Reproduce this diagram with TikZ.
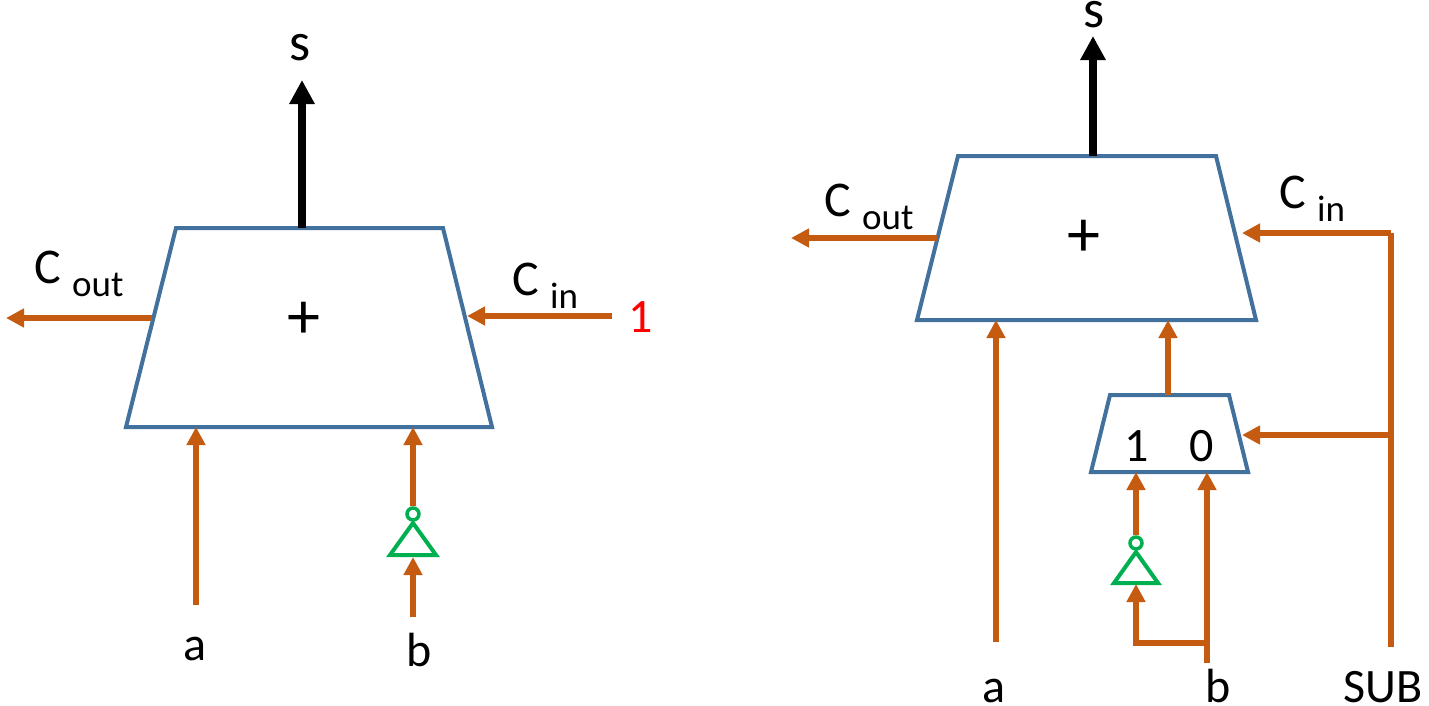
\documentclass[tikz,border=0pt]{standalone}
\usepackage{fontspec}
\setmainfont{Carlito}
\usetikzlibrary{arrows.meta}
\definecolor{wirecol}{HTML}{C55A11}
\definecolor{boxcol}{HTML}{41719C}
\definecolor{gatecol}{HTML}{00B050}
\tikzset{
  wire/.style={draw=wirecol,line width=5.5pt},
  wirearrow/.style={wire,-{Triangle[length=18pt,width=18pt]}},
  sumarrow/.style={draw=black,line width=8.5pt,-{Triangle[length=24pt,width=24pt]}},
  block/.style={draw=boxcol,line width=4pt,line join=miter},
  gate/.style={draw=gatecol,line width=4pt},
  bubble/.style={circle,draw=gatecol,line width=3.5pt,minimum size=12pt,inner sep=0pt},
  lbl/.style={inner sep=0pt,anchor=base,font=\fontsize{48}{50}\selectfont},
  bigsym/.style={inner sep=0pt,anchor=base,font=\fontsize{54}{56}\selectfont},
  plussym/.style={inner sep=0pt,font=\fontsize{66}{70}\selectfont},
  carry/.style={inner sep=0pt,anchor=base west,font=\fontsize{50}{54}\selectfont},
}
\newcommand{\subtxt}[1]{\ \raisebox{-13pt}{\fontsize{37}{40}\selectfont #1}}
\begin{document}
\begin{tikzpicture}[x=1pt,y=-1pt]
\useasboundingbox (0,0) rectangle (1429,705);
% Left adder
\draw[block] (176,228) -- (443,228) -- (492,427) -- (126,427) -- cycle;
\node[plussym] (plusl) at (304,320) {+};
\node[bigsym] (sl) at (300,60) {s};
\node[carry] (coutl) at (34,283) {C\subtxt{out}};
\node[carry] (cinl) at (512,295) {C\subtxt{in}};
\node[lbl,text=red] (onel) at (641,332) {1};
\node[lbl] (al) at (195,660) {a};
\node[lbl] (bl) at (419,666) {b};
\coordinate (ltop) at (302,228);
\coordinate (ltip) at (302,80);
\coordinate (lcl) at (152,318);
\coordinate (lco) at (6,318);
\coordinate (lci) at (467,316);
\coordinate (lone) at (612,316);
\coordinate (laa) at (196,605);
\coordinate (lab) at (196,427);
\coordinate (lbb) at (413,427);
\coordinate (lbs) at (413,617);
\draw[sumarrow] (ltop) -- (ltip);
\draw[wirearrow] (lcl) -- (lco);
\draw[wirearrow] (lone) -- (lci);
\draw[wirearrow] (laa) -- (lab);
% Left inverter
\node[bubble] (bubl) at (413,514) {};
\draw[gate] (413,523) -- (436,555) -- (390,555) -- cycle;
\coordinate (linv) at (413,557);
\draw[wirearrow] (bubl.north) -- (lbb);
\draw[wirearrow] (lbs) -- (linv);
% Right adder
\draw[block] (958,156) -- (1216,156) -- (1256,320) -- (917,320) -- cycle;
\node[plussym] (plusr) at (1084,238) {+};
\node[bigsym] (sr) at (1094,27) {s};
\node[carry] (coutr) at (824,216) {C\subtxt{out}};
\node[carry] (cinr) at (1279,208) {C\subtxt{in}};
\node[lbl] (ar) at (994,702) {a};
\node[lbl] (br) at (1218,702) {b};
\node[lbl] (subr) at (1383,702) {SUB};
\coordinate (rtop) at (1093,156);
\coordinate (rtip) at (1093,36);
\coordinate (rcl) at (937,238);
\coordinate (rco) at (791,238);
\coordinate (rci) at (1242,233);
\coordinate (rcj) at (1391,233);
\coordinate (rsel) at (1242,435);
\coordinate (rsj) at (1391,435);
\coordinate (rsub) at (1391,647);
\coordinate (raa) at (996,642);
\coordinate (rab) at (996,320);
\draw[sumarrow] (rtop) -- (rtip);
\draw[wirearrow] (rcl) -- (rco);
\draw[wirearrow] (raa) -- (rab);
\draw[wire] (rsub) -- (rcj);
\draw[wirearrow] (rcj) -- (rci);
\draw[wirearrow] (rsj) -- (rsel);
% Mux
\draw[block] (1110,395) -- (1229,395) -- (1248,472) -- (1091,472) -- cycle;
\node[lbl] (one) at (1137,461) {1};
\node[lbl] (zero) at (1202,461) {0};
\coordinate (mtop) at (1168,395);
\coordinate (add) at (1168,320);
\coordinate (mone) at (1136,472);
\coordinate (mzero) at (1207,472);
\coordinate (bend) at (1207,663);
\coordinate (bj) at (1207,643);
\coordinate (bc) at (1136,643);
\draw[wirearrow] (mtop) -- (add);
\draw[wirearrow] (bend) -- (mzero);
% Right inverter
\node[bubble] (bubr) at (1136,543) {};
\draw[gate] (1136,552) -- (1158,583) -- (1114,583) -- cycle;
\coordinate (rinv) at (1136,584);
\draw[wirearrow] (bubr.north) -- (mone);
\draw[wirearrow,line join=miter] (bj) -- (bc) -- (rinv);
\end{tikzpicture}
\end{document}
